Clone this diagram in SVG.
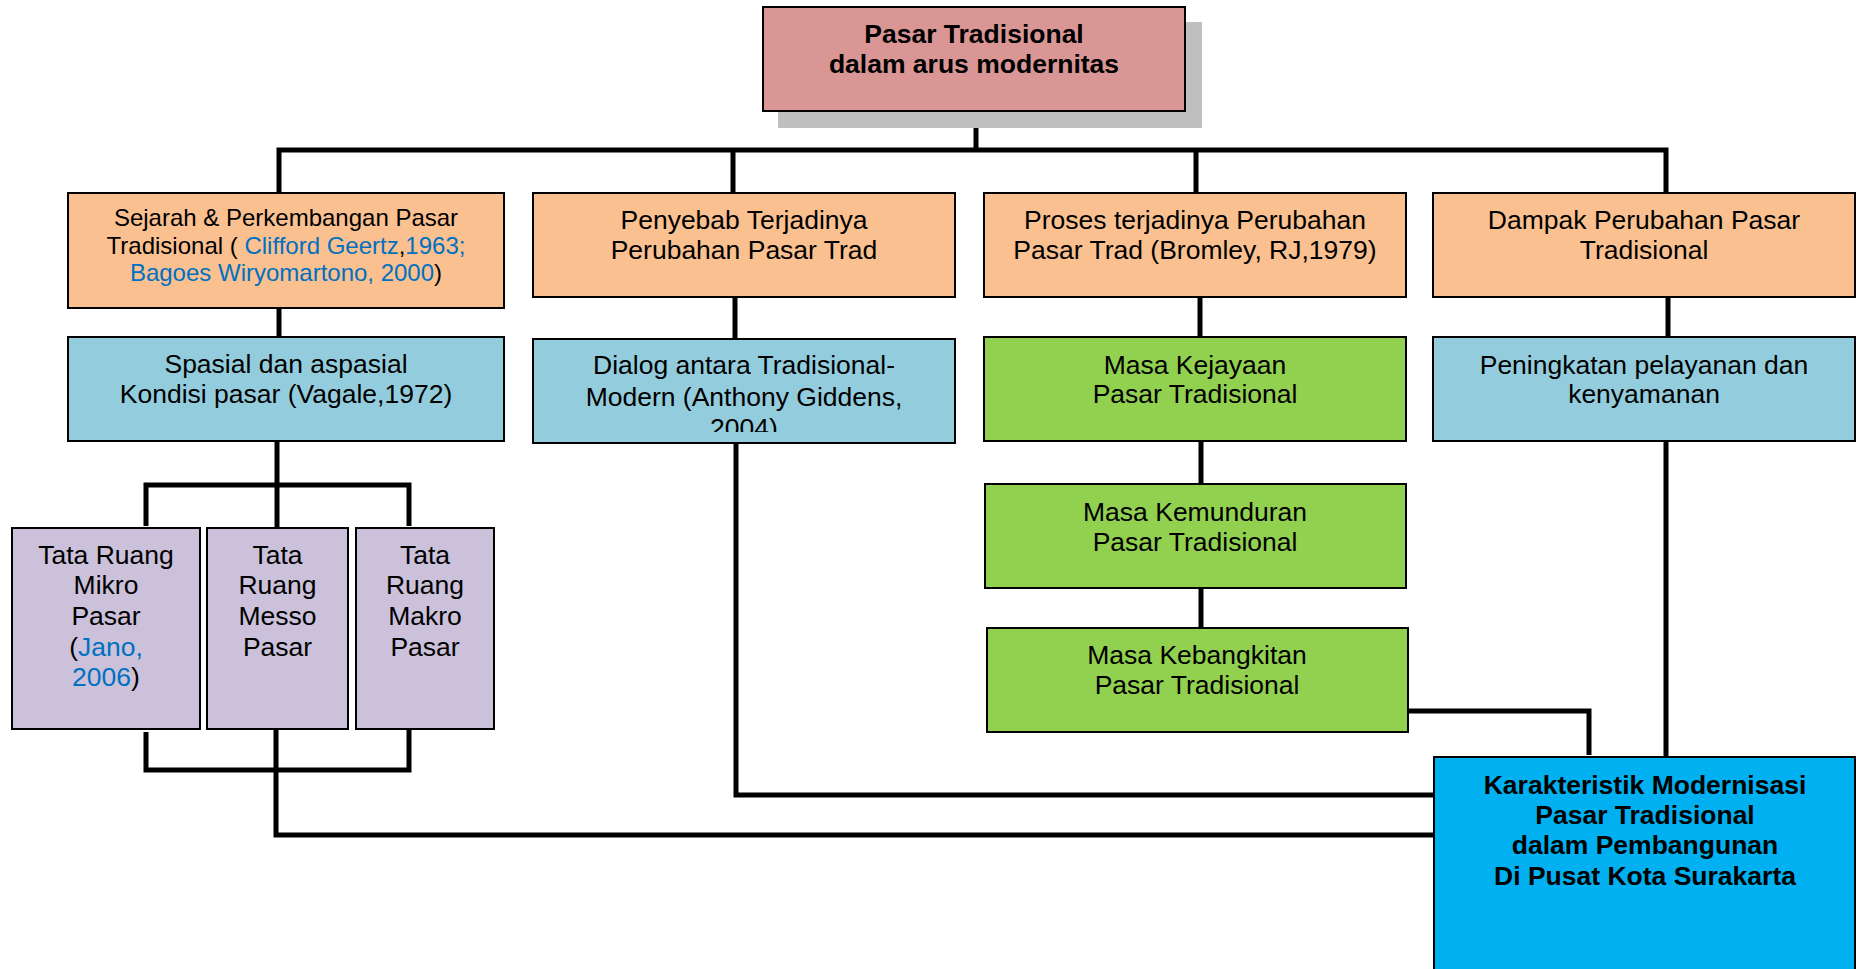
<svg xmlns="http://www.w3.org/2000/svg" width="1856" height="969" viewBox="0 0 1856 969">
<style>
.box{stroke:#000;stroke-width:2}
.pink{fill:#D99694}
.orange{fill:#FAC090}
.blue{fill:#93CDDD}
.green{fill:#92D050}
.purple{fill:#CCC1DA}
.cyan{fill:#00B0F0}
.t{font-family:"Liberation Sans",Arial,sans-serif;font-size:26.5px;fill:#000;text-anchor:middle}
.s{font-size:24px}
.b{font-weight:bold}
.ref{fill:#0070C0}
.c{fill:none;stroke:#000;stroke-width:5;stroke-linejoin:miter;stroke-linecap:butt}
</style>
<defs>
<clipPath id="clipDialog"><rect x="533" y="339" width="422" height="93"/></clipPath>
</defs>
<rect width="1856" height="969" fill="#fff"/>
<g id="connectors">
<polyline class="c" points="976,111 976,150"/>
<polyline class="c" points="279,193 279,150 1666,150 1666,193"/>
<polyline class="c" points="733,150 733,193"/>
<polyline class="c" points="1196,150 1196,193"/>
<polyline class="c" points="279,308 279,337"/>
<polyline class="c" points="277,441 277,528"/>
<polyline class="c" points="146,526 146,485 409,485 409,526"/>
<polyline class="c" points="146,732 146,770 409,770 409,729"/>
<polyline class="c" points="276,729 276,835 1434,835"/>
<polyline class="c" points="735,297 735,339"/>
<polyline class="c" points="736,443 736,795 1434,795"/>
<polyline class="c" points="1200,297 1200,337"/>
<polyline class="c" points="1201,441 1201,484"/>
<polyline class="c" points="1201,588 1201,628"/>
<polyline class="c" points="1668,297 1668,337"/>
<polyline class="c" points="1666,441 1666,757"/>
<polyline class="c" points="1408,711 1589,711 1589,755"/>
</g>
<g id="node-top">
<rect x="778" y="22" width="424" height="106" fill="#BFBFBF"/>
<rect class="box pink" x="763" y="7" width="422" height="104"/>
<text class="t b" x="974" y="43">Pasar Tradisional</text>
<text class="t b" x="974" y="73">dalam arus modernitas</text>
</g>
<g id="node-sejarah">
<rect class="box orange" x="68" y="193" width="436" height="115"/>
<text class="t s" x="286" y="226">Sejarah &amp; Perkembangan Pasar</text>
<text class="t s" x="286" y="254">Tradisional ( <tspan class="ref">Clifford Geertz</tspan>,<tspan class="ref">1963;</tspan></text>
<text class="t s" x="286" y="281"><tspan class="ref">Bagoes Wiryomartono, 2000</tspan>)</text>
</g>
<g id="node-penyebab">
<rect class="box orange" x="533" y="193" width="422" height="104"/>
<text class="t" x="744" y="229">Penyebab Terjadinya</text>
<text class="t" x="744" y="259">Perubahan Pasar Trad</text>
</g>
<g id="node-proses">
<rect class="box orange" x="984" y="193" width="422" height="104"/>
<text class="t" x="1195" y="229">Proses terjadinya Perubahan</text>
<text class="t" x="1195" y="259">Pasar Trad (Bromley, RJ,1979)</text>
</g>
<g id="node-dampak">
<rect class="box orange" x="1433" y="193" width="422" height="104"/>
<text class="t" x="1644" y="229">Dampak Perubahan Pasar</text>
<text class="t" x="1644" y="259">Tradisional</text>
</g>
<g id="node-spasial">
<rect class="box blue" x="68" y="337" width="436" height="104"/>
<text class="t" x="286" y="373">Spasial dan aspasial</text>
<text class="t" x="286" y="403">Kondisi pasar (Vagale,1972)</text>
</g>
<g id="node-dialog">
<rect class="box blue" x="533" y="339" width="422" height="104"/>
<g clip-path="url(#clipDialog)">
<text class="t" x="744" y="374">Dialog antara Tradisional-</text>
<text class="t" x="744" y="406">Modern (Anthony Giddens,</text>
<text class="t" x="744" y="437">2004)</text>
</g>
</g>
<g id="node-kejayaan">
<rect class="box green" x="984" y="337" width="422" height="104"/>
<text class="t" x="1195" y="374">Masa Kejayaan</text>
<text class="t" x="1195" y="403">Pasar Tradisional</text>
</g>
<g id="node-peningkatan">
<rect class="box blue" x="1433" y="337" width="422" height="104"/>
<text class="t" x="1644" y="374">Peningkatan pelayanan dan</text>
<text class="t" x="1644" y="403">kenyamanan</text>
</g>
<g id="node-kemunduran">
<rect class="box green" x="985" y="484" width="421" height="104"/>
<text class="t" x="1195" y="521">Masa Kemunduran</text>
<text class="t" x="1195" y="551">Pasar Tradisional</text>
</g>
<g id="node-kebangkitan">
<rect class="box green" x="987" y="628" width="421" height="104"/>
<text class="t" x="1197" y="664">Masa Kebangkitan</text>
<text class="t" x="1197" y="694">Pasar Tradisional</text>
</g>
<g id="node-mikro">
<rect class="box purple" x="12" y="528" width="188" height="201"/>
<text class="t" x="106" y="564">Tata Ruang</text>
<text class="t" x="106" y="594">Mikro</text>
<text class="t" x="106" y="625">Pasar</text>
<text class="t" x="106" y="656">(<tspan class="ref">Jano,</tspan></text>
<text class="t" x="106" y="686"><tspan class="ref">2006</tspan>)</text>
</g>
<g id="node-messo">
<rect class="box purple" x="207" y="528" width="141" height="201"/>
<text class="t" x="277.5" y="564">Tata</text>
<text class="t" x="277.5" y="594">Ruang</text>
<text class="t" x="277.5" y="625">Messo</text>
<text class="t" x="277.5" y="656">Pasar</text>
</g>
<g id="node-makro">
<rect class="box purple" x="356" y="528" width="138" height="201"/>
<text class="t" x="425" y="564">Tata</text>
<text class="t" x="425" y="594">Ruang</text>
<text class="t" x="425" y="625">Makro</text>
<text class="t" x="425" y="656">Pasar</text>
</g>
<g id="node-karakteristik">
<rect class="box cyan" x="1434" y="757" width="421" height="220"/>
<text class="t b" x="1645" y="794">Karakteristik Modernisasi</text>
<text class="t b" x="1645" y="824">Pasar Tradisional</text>
<text class="t b" x="1645" y="854">dalam Pembangunan</text>
<text class="t b" x="1645" y="885">Di Pusat Kota Surakarta</text>
</g>
</svg>
